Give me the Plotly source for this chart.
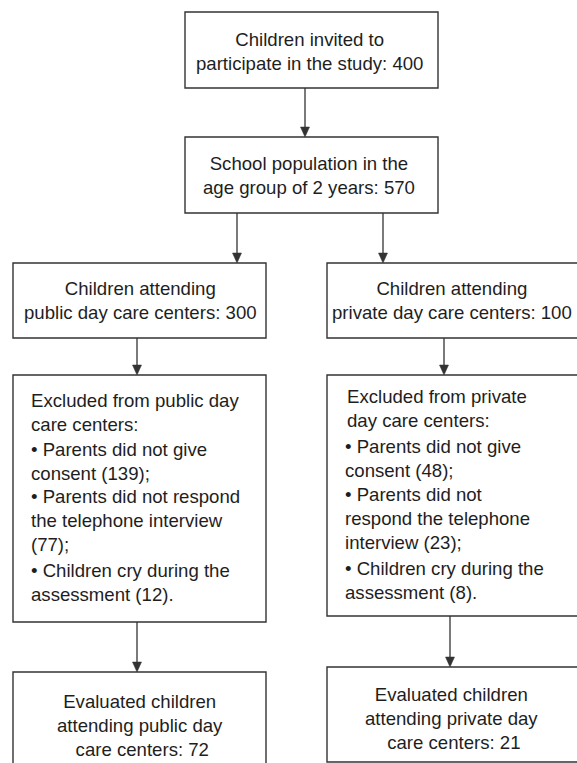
import plotly.graph_objects as go

invited = 400
school_population = 570
groups = ["public", "private"]
attending = [300, 100]
excl_no_consent = [139, 48]
excl_no_interview = [77, 23]
excl_crying = [12, 8]
evaluated = [72, 21]

# ---- layout geometry (page pixels) ----
W, H = 577, 763
FONT = "Liberation Sans, Arial, Helvetica, sans-serif"
FS = 18.6
LH = FS * 1.3
TXT = "#1e1e1e"
LINE = "#333333"

boxes = {
    "invited": (185, 12, 438, 88),
    "school": (185, 137, 438, 213),
    "att_public": (13, 263, 266, 338),
    "att_private": (327, 263, 600, 338),
    "exc_public": (13, 375, 266, 622),
    "exc_private": (327, 375, 600, 616),
    "eval_public": (13, 672, 266, 800),
    "eval_private": (327, 667, 600, 762),
}

shapes = []
annotations = []

for (x0, y0, x1, y1) in boxes.values():
    shapes.append(dict(type="rect", xref="x", yref="y", x0=x0, y0=y0, x1=x1, y1=y1,
                       line=dict(color=LINE, width=1.4), fillcolor="rgba(0,0,0,0)"))


def arrow(x, y_from, y_to):
    head = 10
    shapes.append(dict(type="line", xref="x", yref="y", x0=x, y0=y_from, x1=x, y1=y_to - head + 1,
                       line=dict(color=LINE, width=1.3)))
    shapes.append(dict(type="path", xref="x", yref="y",
                       path=f"M{x-4.5},{y_to-head} L{x+4.5},{y_to-head} L{x},{y_to} Z",
                       fillcolor=LINE, line=dict(color=LINE, width=0.5)))


arrow(305, boxes["invited"][3], boxes["school"][1])
arrow(237, boxes["school"][3], boxes["att_public"][1])
arrow(383, boxes["school"][3], boxes["att_private"][1])
arrow(137, boxes["att_public"][3], boxes["exc_public"][1])
arrow(444, boxes["att_private"][3], boxes["exc_private"][1])
arrow(137, boxes["exc_public"][3], boxes["eval_public"][1])
arrow(450, boxes["exc_private"][3], boxes["eval_private"][1])


def centered(lines, xc, first_y):
    n = len(lines)
    annotations.append(dict(xref="x", yref="y", x=xc, y=first_y + (n - 1) * LH / 2,
                            text="<br>".join(lines), showarrow=False, align="center",
                            xanchor="center", yanchor="middle",
                            font=dict(family=FONT, size=FS, color=TXT)))


def left_para(lines, x, first_y):
    n = len(lines)
    annotations.append(dict(xref="x", yref="y", x=x, y=first_y + (n - 1) * LH / 2,
                            text="<br>".join(lines), showarrow=False, align="left",
                            xanchor="left", yanchor="middle",
                            font=dict(family=FONT, size=FS, color=TXT)))


centered(["Children invited to", f"participate in the study: {invited}"], 309, 39)
centered(["School population in the", f"age group of 2 years: {school_population}"], 309, 163)
centered(["Children attending", f"{groups[0]} day care centers: {attending[0]}"], 140, 288)
centered(["Children attending", f"{groups[1]} day care centers: {attending[1]}"], 452, 288)

pub_paras = [
    (["Excluded from public day", "care centers:"], 29, 400),
    (["• Parents did not give", f"consent ({excl_no_consent[0]});"], 29, 449),
    (["• Parents did not respond", "the telephone interview", f"({excl_no_interview[0]});"], 29, 496.7),
    (["• Children cry during the", f"assessment ({excl_crying[0]})."], 29, 570.7),
]
priv_paras = [
    (["Excluded from private", "day care centers:"], 345, 396.7),
    (["• Parents did not give", f"consent ({excl_no_consent[1]});"], 343, 446),
    (["• Parents did not", "respond the telephone", f"interview ({excl_no_interview[1]});"], 343, 494.3),
    (["• Children cry during the", f"assessment ({excl_crying[1]})."], 343, 568.3),
]
for lines, x, y in pub_paras + priv_paras:
    left_para(lines, x, y)

centered(["Evaluated children", f"attending {groups[0]} day", f" care centers: {evaluated[0]}"], 140, 701)
centered(["Evaluated children", f"attending {groups[1]} day", f" care centers: {evaluated[1]}"], 451, 694)

fig = go.Figure()
fig.update_layout(
    width=W, height=H, margin=dict(l=0, r=0, t=0, b=0),
    paper_bgcolor="white", plot_bgcolor="white",
    xaxis=dict(range=[0, W], visible=False, fixedrange=True),
    yaxis=dict(range=[H, 0], visible=False, fixedrange=True),
    shapes=shapes, annotations=annotations, showlegend=False,
)
fig.write_html(
    "out.html",
    config={"displayModeBar": False},
    post_script="document.body.style.margin='0px';document.body.style.overflow='hidden';",
)
